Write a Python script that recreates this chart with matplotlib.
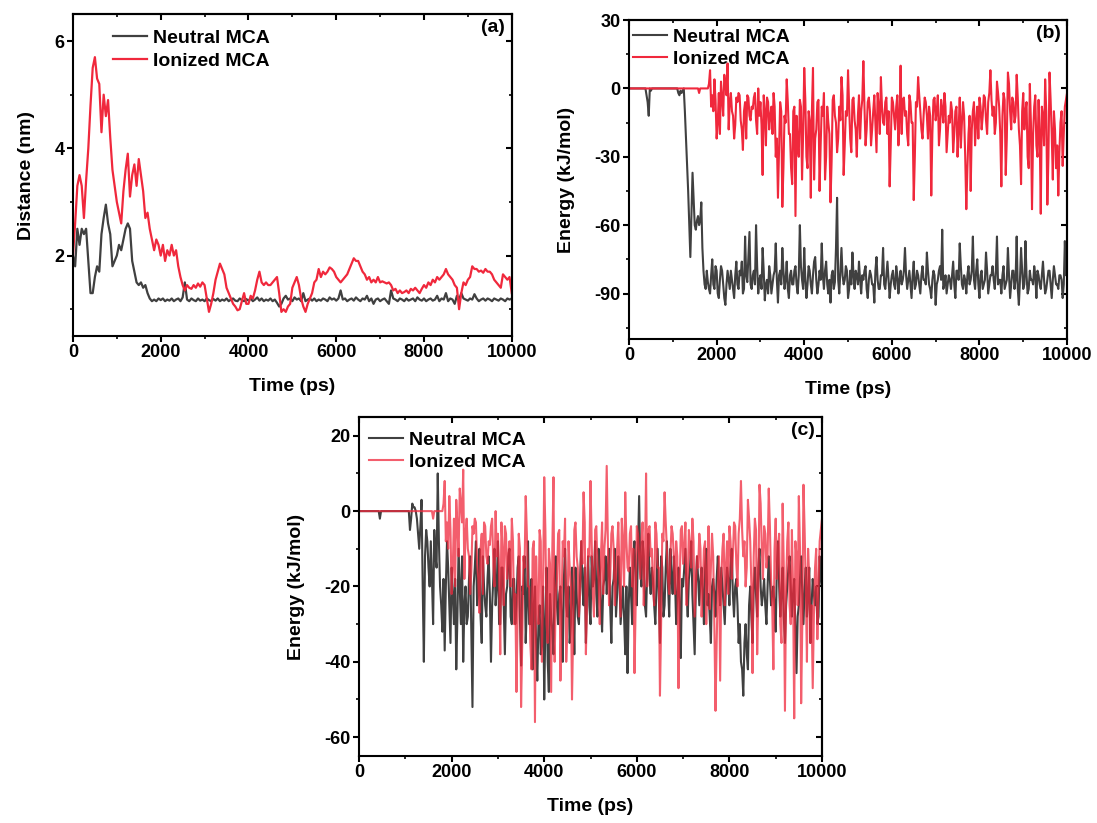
import matplotlib
matplotlib.use("Agg")
import matplotlib.pyplot as plt
import numpy as np

plt.rcParams.update({
    "font.family": "Liberation Sans", "font.weight": "bold",
    "font.size": 13, "axes.labelweight": "bold", "axes.linewidth": 1.5,
    "axes.unicode_minus": False,
    "xtick.major.width": 1.5, "ytick.major.width": 1.5,
    "xtick.minor.width": 1.2, "ytick.minor.width": 1.2,
    "xtick.major.size": 4, "ytick.major.size": 4,
    "xtick.minor.size": 2.5, "ytick.minor.size": 2.5,
})

GREY = "#404040"
RED = "#f0283c"

# sampling grids (ps)
time_ps = np.arange(0, 10001, 50)     # 50 ps frames
time_fine = np.arange(0, 10001, 25)   # 25 ps frames (energies)

# (a) distance (nm), 50 ps frames
dist_neutral = [
    2.0, 1.8, 2.5, 2.2, 2.5, 2.4, 2.5, 1.9, 1.3, 1.3,
    1.6, 1.8, 1.7, 2.4, 2.7, 2.95, 2.6, 2.4, 1.8, 1.9,
    2.0, 2.2, 2.1, 2.3, 2.5, 2.6, 2.5, 1.9, 1.7, 1.5,
    1.45, 1.5, 1.4, 1.45, 1.3, 1.2, 1.15, 1.18, 1.15, 1.2,
    1.17, 1.2, 1.15, 1.18, 1.16, 1.2, 1.15, 1.18, 1.2, 1.15,
    1.22, 1.5, 1.18, 1.15, 1.2, 1.17, 1.15, 1.2, 1.16, 1.18,
    1.15, 1.2, 1.17, 1.15, 1.19, 1.16, 1.2, 1.15, 1.18, 1.16,
    1.2, 1.15, 1.18, 1.2, 1.16, 1.15, 1.2, 1.17, 1.15, 1.19,
    1.16, 1.2, 1.15, 1.18, 1.22, 1.16, 1.2, 1.15, 1.18, 1.16,
    1.2, 1.15, 1.18, 1.12, 1.05, 1.1, 1.2, 1.25, 1.18, 1.2,
    1.15, 1.22, 1.18, 1.2, 1.15, 1.3, 1.15, 1.18, 1.2, 1.16,
    1.2, 1.15, 1.18, 1.16, 1.2, 1.18, 1.15, 1.22, 1.18, 1.2,
    1.16, 1.2, 1.35, 1.18, 1.2, 1.15, 1.18, 1.2, 1.16, 1.22,
    1.18, 1.15, 1.2, 1.18, 1.25, 1.15, 1.2, 1.1, 1.18, 1.2,
    1.15, 1.18, 1.2, 1.15, 1.1, 1.35, 1.2, 1.18, 1.15, 1.2,
    1.18, 1.15, 1.2, 1.16, 1.18, 1.2, 1.15, 1.22, 1.18, 1.16,
    1.2, 1.15, 1.18, 1.2, 1.16, 1.18, 1.25, 1.15, 1.2, 1.18,
    1.3, 1.15, 1.2, 1.18, 1.1, 1.25, 1.18, 1.3, 1.2, 1.18,
    1.16, 1.2, 1.18, 1.28, 1.2, 1.15, 1.18, 1.2, 1.16, 1.2,
    1.18, 1.15, 1.2, 1.18, 1.16, 1.2, 1.18, 1.15, 1.2, 1.18,
    1.2,
]
dist_ionized = [
    2.0, 2.6, 3.3, 3.5, 3.3, 2.7, 3.4, 4.0, 4.8, 5.5,
    5.7, 5.3, 5.2, 4.3, 5.0, 4.6, 4.9, 4.2, 3.6, 3.3,
    3.0, 2.8, 2.6, 3.2, 3.6, 3.9, 3.1, 3.5, 3.7, 3.3,
    3.8, 3.5, 3.2, 2.7, 2.8, 2.5, 2.3, 2.1, 2.3, 2.2,
    2.0, 2.2, 1.9, 2.1, 2.0, 2.2, 2.0, 2.1, 1.8, 1.6,
    1.45, 1.35, 1.45, 1.4, 1.38, 1.45, 1.4, 1.48, 1.42, 1.5,
    1.45, 1.2, 0.95, 1.1, 1.3, 1.55, 1.7, 1.85, 1.75, 1.65,
    1.4, 1.3, 1.2, 1.1, 1.05, 0.98, 1.0, 1.15, 1.3, 1.1,
    1.1, 1.25, 1.2, 1.35, 1.55, 1.7, 1.5, 1.45, 1.5, 1.45,
    1.45, 1.5, 1.55, 1.6, 1.3, 0.95, 1.0, 0.95, 1.05, 1.1,
    1.4, 1.5, 1.6, 1.45, 1.2, 1.05, 0.95, 1.1, 1.2, 1.3,
    1.5, 1.55, 1.75, 1.6, 1.7, 1.65, 1.7, 1.78, 1.75, 1.7,
    1.6, 1.55, 1.5, 1.55, 1.6, 1.65, 1.75, 1.85, 1.95, 1.9,
    1.9, 1.8, 1.7, 1.65, 1.55, 1.6, 1.5, 1.55, 1.5, 1.6,
    1.5, 1.52, 1.5, 1.48, 1.5, 1.45, 1.35, 1.38, 1.3, 1.35,
    1.3, 1.32, 1.35, 1.3, 1.38, 1.35, 1.4, 1.35, 1.3, 1.38,
    1.45, 1.4, 1.5, 1.45, 1.55, 1.5, 1.6, 1.55, 1.6, 1.65,
    1.75, 1.65, 1.6, 1.55, 1.45, 1.4, 1.0, 1.3, 1.5, 1.45,
    1.55, 1.6, 1.8, 1.75, 1.75, 1.7, 1.72, 1.68, 1.75, 1.7,
    1.7, 1.65, 1.55, 1.5, 1.45, 1.4, 1.65, 1.6, 1.55, 1.6,
    1.3,
]

# (b) neutral MCA energy (kJ/mol): frames at 0, 50, ... and at 25, 75, ...
eb_neutral_even = [
    0, 0, 0, 0, 0, 0, 0, 0, -3, -12,
    -1, 0, 0, 0, 0, 0, 0, 0, 0, 0,
    0, 0, 0, -3, -2, 0, -22, -45, -74, -37,
    -60, -58, -60, -50, -80, -88, -85,
    -90, -75, -88, -80, -92, -78, -86, -95, -80, -88,
    -84, -92, -76, -88, -82, -90, -65, -85, -63, -88,
    -80, -60, -90, -82, -70, -93, -84, -78, -90, -82,
    -68, -94, -80, -70, -88, -76, -92, -80, -86, -78,
    -90, -60, -84, -70, -92, -78, -86, -82, -74, -90,
    -80, -68, -88, -76, -90, -94, -80, -85, -48, -90,
    -70, -86, -78, -92, -80, -72, -88, -82, -76, -90,
    -84, -78, -92, -80, -86, -94, -74, -88, -82, -70,
    -88, -76, -92, -82, -86, -78, -90, -80, -84, -70,
    -88, -80, -92, -76, -86, -82, -90, -78, -84, -72,
    -86, -92, -80, -95, -84, -78, -62, -86, -90, -82,
    -88, -76, -92, -80, -68, -86, -82, -90, -78, -84,
    -65, -88, -75, -92, -80, -86, -72, -90, -82, -78,
    -88, -65, -84, -90, -78, -86, -70, -92, -80, -88,
    -65, -95, -70, -88, -67, -90, -80, -84, -78, -92,
    -82, -88, -76, -90, -84, -80, -92, -78, -86, -88,
    -82, -92, -67, -80,
]
eb_neutral_odd = [
    0, 0, 0, 0, 0, 0, 0, 0, -6, 0,
    0, 0, 0, 0, 0, 0, 0, 0, 0, 0,
    0, 0, -2, -1, -1, -10, -35, -60, -55, -48,
    -62, -56, -58, -70, -86, -80, -88,
    -82, -86, -78, -90, -84, -80, -92, -86, -84, -80,
    -88, -82, -86, -80, -76, -88, -82, -74, -86, -82,
    -86, -78, -84, -88, -80, -86, -90, -82, -86, -80,
    -84, -82, -86, -80, -84, -88, -82, -86, -80, -86,
    -82, -78, -88, -84, -86, -80, -90, -76, -84, -86,
    -84, -82, -80, -86, -84, -82, -88, -70, -84, -80,
    -82, -84, -80, -88, -86, -82, -80, -86, -84, -82,
    -80, -88, -84, -82, -86, -80, -84, -88, -82, -86,
    -82, -84, -86, -80, -88, -82, -84, -86, -80, -82,
    -84, -86, -82, -88, -80, -86, -82, -84, -86, -80,
    -88, -84, -82, -86, -80, -84, -88, -82, -86, -84,
    -82, -86, -80, -84, -78, -88, -84, -82, -86, -80,
    -84, -80, -86, -82, -88, -84, -80, -86, -82, -84,
    -80, -86, -84, -82, -88, -84, -82, -86, -80, -84,
    -88, -84, -80, -86, -82, -88, -84, -86, -82, -80,
    -86, -82, -84, -88, -80, -86, -84, -82, -86, -82,
    -84, -86, -82,
]

# ionized MCA energy (kJ/mol), the same trajectory is shown in (b) and (c)
e_ionized_even = [
    0, 0, 0, 0, 0, 0, 0, 0, 0, 0,
    0, 0, 0, 0, 0, 0, 0, 0, 0, 0,
    0, 0, 0, 0, 0, 0, 0, 0, 0, 0,
    0, 0, -2, 0, 0, 0, 0,
    8, -3, 4, -22, -2, 3, -12, 2, 11, -6,
    -10, -22, -4, -2, -14, -27, -6, -3, -12, -8,
    -4, -14, 0, -6, -38, -10, -4, -18, -8, -2,
    -30, -48, -6, -52, -12, 4, -20, -35, -10, -56,
    -25, -5, -40, 9, -30, -10, -48, 9, -22, -6,
    -45, -8, -2, -30, -15, -50, -5, -12, -28, -8,
    5, -38, -10, 8, -22, -5, -14, -30, -3, -10,
    12, -25, -6, -10, -18, -3, -28, -8, 5, -15,
    -6, -20, -43, -4, -12, -8, -25, 10, -5, -12,
    -20, -3, -15, -49, -6, 5, -10, -22, -4, -12,
    -8, -47, -5, -14, -3, -18, -9, -2, -28, -12,
    -6, -28, -10, -30, -4, -15, -12, -53, -20, -45,
    -10, -25, -8, -4, -18, -3, -14, -6, 8, -12,
    -20, 3, -8, -43, -2, -38, 7, -10, -4, -15,
    6, -18, -42, -2, -10, -30, 2, -53, -8, -25,
    -5, -55, -12, 4, -51, 7, -20, -10, -35, -47,
    -15, -34, -8, -2,
]
e_ionized_odd = [
    0, 0, 0, 0, 0, 0, 0, 0, 0, 0,
    0, 0, 0, 0, 0, 0, 0, 0, 0, 0,
    0, 0, 0, 0, 0, 0, 0, 0, 0, 0,
    0, 0, 0, 0, 0, 0,
    2, -8, -10, -5, -15, -20, -4, 6, -3, -18,
    -2, -12, -16, -6, -3, -18, -10, -22, -4, -14,
    -9, -2, -20, -12, -16, -3, -25, -6, -12, -20,
    -8, -22, -28, -10, -35, -15, -6, -20, -42, -8,
    -12, -30, -8, -20, -5, -35, -14, -10, -40, -18,
    -5, -25, -12, -40, -8, -20, -32, -3, -15, -22,
    -14, -3, -25, -12, -8, -28, -4, -18, -12, -22,
    -5, -8, -18, -4, -25, -10, -15, -2, -20, -8,
    -16, -4, -10, -25, -6, -18, -3, -14, -20, -4,
    -10, -25, -6, -15, -30, -8, -3, -18, -12, -6,
    -22, -12, -20, -4, -10, -25, -5, -15, -8, -20,
    -15, -10, -20, -8, -18, -26, -6, -30, -35, -12,
    -18, -6, -15, -22, -8, -12, -4, -20, -2, -5,
    -8, -15, -2, -20, -12, -5, -22, 2, -18, -6,
    -12, -4, -25, -10, -18, -6, -35, -15, -20, -3,
    -30, -20, -8, -25, -10, -30, -5, -40, -18, -25,
    -28, -10, -20, -5,
]

# (c) neutral MCA energy (kJ/mol)
ec_neutral_even = [
    0, 0, 0, 0, 0, 0, 0, 0, 0, -2,
    0, 0, 0, 0, 0, 0, 0, 0, 0, 0,
    0, 0, -5, 2, 1, -2, -10, 3, -40, -5,
    -15, -8, -30, -12, 10, -20, -32,
    -37, -8, -25, -15, -30, -42, -10, -30, -40, -20,
    -28, -12, -52, -15, -25, -10, -35, -20, -28, -12,
    -40, -18, -25, -8, -30, -15, -38, -20, -10, -30,
    -18, -25, -12, -41, -22, -35, -8, -30, -42, -20,
    -45, -25, -35, -50, -15, -48, -28, -38, -12, -30,
    -20, -40, -10, -28, -35, -15, -38, -22, -30, -8,
    -25, -35, -12, -30, -20, -8, -28, -15, -32, -18,
    -22, -10, -35, -18, -28, -12, -30, -20, -38, -43,
    -15, -30, -8, -25, 4, -20, -12, -28, -6, -22,
    -18, -30, -10, -35, -15, -25, -8, -28, -18, -12,
    -30, -15, -39, -20, -10, -28, -15, -22, -38, -12,
    -25, -15, -30, -10, -22, -35, -18, -28, -12, -25,
    -20, -30, -15, -25, -10, -28, -18, -35, -40, -49,
    -30, -42, -20, -35, -15, -28, -10, -25, -18, -30,
    -12, -25, -20, -32, -8, -28, -15, -35, -20, -12,
    -28, -18, -43, -25, -12, -30, -15, -22, -35, -18,
    -25, -30, -12, -20,
]
ec_neutral_odd = [
    0, 0, 0, 0, 0, 0, 0, 0, 0, 0,
    0, 0, 0, 0, 0, 0, 0, 0, 0, 0,
    0, 0, -2, 1, 0, -6, -4, -20, -12, -8,
    -20, -18, -5, -15, -8, -25, -18,
    -20, -15, -35, -22, -18, -28, -20, -12, -25, -30,
    -18, -32, -20, -8, -22, -28, -12, -25, -18, -22,
    -25, -10, -20, -30, -15, -25, -22, -12, -28, -18,
    -30, -15, -28, -20, -12, -25, -30, -18, -25, -35,
    -30, -38, -20, -30, -40, -22, -32, -18, -25, -22,
    -28, -18, -25, -20, -30, -22, -15, -28, -18, -20,
    -15, -22, -25, -12, -18, -22, -10, -25, -20, -12,
    -15, -25, -20, -10, -22, -18, -25, -28, -20, -25,
    -22, -12, -18, -10, -15, -8, -25, -15, -18, -15,
    -25, -20, -22, -12, -28, -15, -20, -10, -22, -18,
    -22, -25, -18, -15, -22, -18, -8, -30, -20, -18,
    -18, -22, -15, -25, -28, -20, -22, -18, -20, -15,
    -25, -20, -18, -15, -22, -20, -25, -30, -42, -35,
    -38, -25, -28, -20, -22, -15, -20, -22, -25, -20,
    -18, -22, -25, -15, -20, -22, -28, -25, -15, -20,
    -22, -30, -28, -18, -22, -20, -28, -15, -25, -22,
    -20, -28, -18,
]


def frames(even, odd):
    """Interleave frames at t = 0, 50, ... with frames at t = 25, 75, ..."""
    y = np.empty(len(even) + len(odd))
    y[0::2] = even
    y[1::2] = odd
    return y


eb_neutral = frames(eb_neutral_even, eb_neutral_odd)
e_ionized = frames(e_ionized_even, e_ionized_odd)
ec_neutral = frames(ec_neutral_even, ec_neutral_odd)

PANELS = [
    # rect (l, b, w, h), ylim, major, minor, ylabel, tag, legend anchor
    ([0.0665, 0.5917, 0.400, 0.391], (0.5, 6.5), 2, 1, "Distance (nm)", "(a)", (0.091, 0.952)),
    ([0.5734, 0.5880, 0.3993, 0.3876], (-110, 30), 30, 15, "Energy (kJ/mol)", "(b)", (0.009, 0.975)),
    ([0.3273, 0.0814, 0.4220, 0.4120], (-65, 25), 20, 10, "Energy (kJ/mol)", "(c)", (0.022, 0.958)),
]


def style_axes(ax, ylim, major, minor, ylabel, tag, anchor):
    ax.set_xlim(0, 10000)
    ax.set_ylim(*ylim)
    ax.xaxis.set_major_locator(plt.MultipleLocator(2000))
    ax.xaxis.set_minor_locator(plt.MultipleLocator(1000))
    ax.yaxis.set_major_locator(plt.MultipleLocator(major))
    ax.yaxis.set_minor_locator(plt.MultipleLocator(minor))
    ax.tick_params(which="both", direction="out", labelsize=13, pad=2)
    # mirrored inward ticks on the top and right spines
    top = ax.secondary_xaxis("top")
    top.xaxis.set_major_locator(plt.MultipleLocator(2000))
    top.xaxis.set_minor_locator(plt.MultipleLocator(1000))
    top.tick_params(which="both", direction="in", labeltop=False)
    right = ax.secondary_yaxis("right")
    right.yaxis.set_major_locator(plt.MultipleLocator(major))
    right.yaxis.set_minor_locator(plt.MultipleLocator(minor))
    right.tick_params(which="both", direction="in", labelright=False)
    ax.set_xlabel("Time (ps)", fontsize=14, labelpad=12)
    ax.set_ylabel(ylabel, fontsize=14, labelpad=14)
    ax.text(0.985, 0.985, tag, transform=ax.transAxes, ha="right", va="top",
            fontsize=14, fontweight="bold")
    ax.legend(loc="upper left", bbox_to_anchor=anchor, frameon=False,
              fontsize=14, handlelength=1.75, handletextpad=0.3,
              labelspacing=0.25, borderpad=0, borderaxespad=0)


fig = plt.figure(figsize=(10.97, 8.23), dpi=100)

ax = fig.add_axes(PANELS[0][0])
ax.plot(time_ps, dist_neutral, color=GREY, lw=1.6, label="Neutral MCA")
ax.plot(time_ps, dist_ionized, color=RED, lw=1.6, label="Ionized MCA")
style_axes(ax, *PANELS[0][1:])

ax = fig.add_axes(PANELS[1][0])
ax.plot(time_fine, eb_neutral, color=GREY, lw=1.5, label="Neutral MCA")
ax.plot(time_fine, e_ionized, color=RED, lw=1.5, label="Ionized MCA")
style_axes(ax, *PANELS[1][1:])

ax = fig.add_axes(PANELS[2][0])
ax.plot(time_fine, ec_neutral, color=GREY, lw=1.5, label="Neutral MCA")
ax.plot(time_fine, e_ionized, color=RED, lw=1.5, alpha=0.75, label="Ionized MCA")
style_axes(ax, *PANELS[2][1:])

fig.savefig("out.png", dpi=100)
